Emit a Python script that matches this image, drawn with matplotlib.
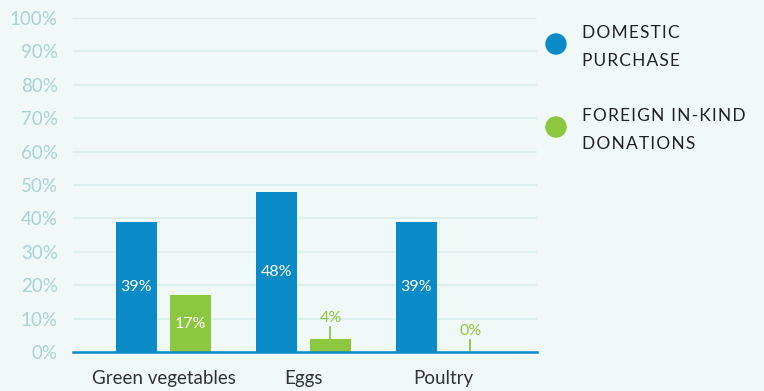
import matplotlib.pyplot as plt
from matplotlib.patches import Ellipse
import numpy as np

categories = ["Green vegetables", "Eggs", "Poultry"]
domestic = [39, 48, 39]
foreign = [17, 4, 0]
series_names = ["DOMESTIC\nPURCHASE", "FOREIGN IN-KIND\nDONATIONS"]

BG = "#f1f9f8"
BLUE = "#0a8ac6"
GREEN = "#8dc63f"
TICK = "#a9d3d5"
GRID = "#ddefef"

plt.rcParams["font.family"] = ["Lato", "DejaVu Sans"]

fig = plt.figure(figsize=(7.64, 3.91), dpi=100, facecolor=BG)
ax = fig.add_axes([73 / 764, 1 - 352 / 391, (537 - 73) / 764, (352 - 18) / 391])
ax.set_facecolor(BG)

x = np.arange(len(categories))
w = 0.293
off = 0.193
ax.bar(x - off, domestic, w, color=BLUE, zorder=3)
ax.bar(x + off, foreign, w, color=GREEN, zorder=3)

for xi, v in zip(x - off, domestic):
    ax.text(xi, v / 2, f"{v}%", color="white", ha="center", va="center", fontsize=11.5, zorder=4)
for xi, v in zip(x + off, foreign):
    if v >= 10:
        ax.text(xi, v / 2, f"{v}%", color="white", ha="center", va="center", fontsize=11.5, zorder=4)
    else:
        ax.plot([xi, xi], [v, v + 3.5], color=GREEN, lw=1.3, zorder=4)
        ax.text(xi, v + 4.2, f"{v}%", color=GREEN, ha="center", va="bottom", fontsize=11.5, zorder=4)

ax.set_ylim(0, 100)
ax.set_xlim(-0.646, 2.668)
ax.set_yticks(range(0, 101, 10))
ax.set_yticklabels([f"{t}%" for t in range(0, 101, 10)])
ax.set_xticks(x)
ax.set_xticklabels(categories)
ax.tick_params(axis="y", length=0, colors=TICK, labelsize=13.5, pad=11)
ax.tick_params(axis="x", length=0, colors="#333333", labelsize=13.5, pad=13)
ax.grid(axis="y", color=GRID, lw=1.5, zorder=0)
for s in ["top", "right", "left"]:
    ax.spines[s].set_visible(False)
ax.spines["bottom"].set_color(BLUE)
ax.spines["bottom"].set_linewidth(1.8)
ax.spines["bottom"].set_zorder(5)

# legend
for name, color, yc in zip(series_names, [BLUE, GREEN], [44, 127]):
    fig.add_artist(Ellipse((556 / 764, 1 - yc / 391), 20 / 764, 20 / 391,
                           transform=fig.transFigure, color=color))
    lines = ["\u200a".join(line) for line in name.split("\n")]
    fig.text(582 / 764, 1 - (yc - 19) / 391, "\n".join(lines), color="#222222", fontsize=12.5,
             va="top", ha="left", linespacing=1.95)

fig.savefig("out.png", dpi=100, facecolor=BG)
